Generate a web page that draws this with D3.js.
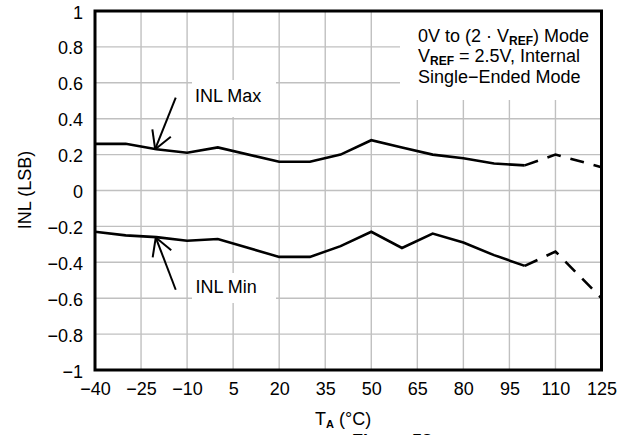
<!DOCTYPE html>
<html><head><meta charset="utf-8">
<script src="https://cdn.jsdelivr.net/npm/d3@7"></script>
<style>
body{margin:0;background:#fff}
svg{display:block}
text{font-family:"Liberation Sans",Arial,Helvetica,sans-serif;fill:#000}
</style>
</head><body>
<svg id="chart" width="628" height="435"></svg>
<script>
// ---- data ----
const temps = [-40, -30, -20, -10, 0, 20, 30, 40, 50, 60, 70, 80, 90, 100];
const inlMax = [0.26, 0.26, 0.23, 0.21, 0.24, 0.16, 0.16, 0.20, 0.28, 0.24, 0.20, 0.18, 0.15, 0.14];
const inlMin = [-0.23, -0.25, -0.26, -0.28, -0.27, -0.37, -0.37, -0.31, -0.23, -0.32, -0.24, -0.29, -0.36, -0.42];
const tempsExt = [100, 110, 125];
const inlMaxExt = [0.14, 0.20, 0.13];
const inlMinExt = [-0.42, -0.34, -0.60];
const xTicks = [-40, -25, -10, 5, 20, 35, 50, 65, 80, 95, 110, 125];
const xTickLabels = ["−40", "−25", "−10", "5", "20", "35", "50", "65", "80", "95", "110", "125"];
const yTicks = [-1, -0.8, -0.6, -0.4, -0.2, 0, 0.2, 0.4, 0.6, 0.8, 1];
const yTickLabels = ["−1", "−0.8", "−0.6", "−0.4", "−0.2", "0", "0.2", "0.4", "0.6", "0.8", "1"];

// ---- layout ----
const svg = d3.select("#chart");
const L = 95, R = 601.5, T = 11, B = 370;
const x = d3.scaleLinear().domain([-40, 125]).range([L, R]);
const y = d3.scaleLinear().domain([-1, 1]).range([B, T]);
const FS = 18;

// grid
const grid = svg.append("g").attr("stroke", "#c0c0c0").attr("stroke-width", 1.4);
grid.selectAll("line.v").data(xTicks).join("line").attr("class", "v")
  .attr("x1", d => x(d)).attr("x2", d => x(d)).attr("y1", T).attr("y2", B);
grid.selectAll("line.h").data(yTicks).join("line").attr("class", "h")
  .attr("x1", L).attr("x2", R).attr("y1", d => y(d)).attr("y2", d => y(d));

// white backgrounds behind texts
svg.append("rect").attr("x", 400).attr("y", T).attr("width", R - 400).attr("height", 100 - T).attr("fill", "#fff");
svg.append("rect").attr("x", 192).attr("y", 80).attr("width", 84).attr("height", 37).attr("fill", "#fff");
svg.append("rect").attr("x", 192).attr("y", 273).attr("width", 84).attr("height", 30).attr("fill", "#fff");

// series
const line = d3.line().x(d => x(d[0])).y(d => y(d[1]));
function drawSeries(ts, vs, dashed) {
  svg.append("path").datum(ts.map((t, i) => [t, vs[i]]))
    .attr("d", line).attr("fill", "none").attr("stroke", "#000")
    .attr("stroke-width", 2.6).attr("stroke-linejoin", "miter")
    .attr("stroke-dasharray", dashed ? "14,10" : null);
}
drawSeries(temps, inlMax, false);
drawSeries(temps, inlMin, false);
drawSeries(tempsExt, inlMaxExt, true);
drawSeries(tempsExt, inlMinExt, true);

// arrows (tail -> tip, in data units)
function arrow(tail, tip) {
  const tx = x(tail[0]), ty = y(tail[1]), px = x(tip[0]), py = y(tip[1]);
  const g = svg.append("g").attr("stroke", "#000").attr("stroke-width", 2).attr("fill", "none");
  g.append("line").attr("x1", tx).attr("y1", ty).attr("x2", px).attr("y2", py);
  const a = Math.atan2(ty - py, tx - px);
  [-0.52, 0.52].forEach(da => {
    g.append("line").attr("x1", px).attr("y1", py)
      .attr("x2", px + 20 * Math.cos(a + da)).attr("y2", py + 20 * Math.sin(a + da));
  });
}
arrow([-13.7, 0.518], [-20.4, 0.23]);
arrow([-13.7, -0.553], [-20.2, -0.262]);

// border
svg.append("rect").attr("x", L).attr("y", T).attr("width", R - L).attr("height", B - T)
  .attr("fill", "none").attr("stroke", "#000").attr("stroke-width", 3);

// axes
const xAxis = svg.append("g").attr("transform", `translate(0,${B})`)
  .call(d3.axisBottom(x).tickValues(xTicks).tickSize(0).tickFormat((d, i) => xTickLabels[i]));
xAxis.select(".domain").remove();
xAxis.selectAll("text").attr("y", 25).attr("dy", 0).attr("font-size", FS)
  .attr("font-family", "Liberation Sans, Arial, sans-serif").attr("fill", "#000");

const yAxis = svg.append("g").attr("transform", `translate(${L},0)`)
  .call(d3.axisLeft(y).tickValues(yTicks).tickSize(0).tickFormat((d, i) => yTickLabels[i]));
yAxis.select(".domain").remove();
yAxis.selectAll("text").attr("x", -12).attr("dy", 7).attr("font-size", FS)
  .attr("font-family", "Liberation Sans, Arial, sans-serif").attr("fill", "#000");

// axis titles
svg.append("text").attr("transform", "translate(31,190) rotate(-90)")
  .attr("text-anchor", "middle").attr("font-size", FS).text("INL (LSB)");
const xt = svg.append("text").attr("x", 315).attr("y", 425).attr("font-size", FS);
xt.append("tspan").text("T");
xt.append("tspan").attr("font-size", 11).attr("font-weight", "bold").attr("dy", 3).text("A");
xt.append("tspan").attr("dy", -3).text(" (°C)");

svg.append("text").attr("x", 352).attr("y", 447).attr("font-size", FS).attr("font-weight", "bold").text("Figure 58");

// series labels
svg.append("text").attr("x", 195).attr("y", 101.5).attr("font-size", FS).text("INL Max");
svg.append("text").attr("x", 195.5).attr("y", 293).attr("font-size", FS).text("INL Min");

// condition text
const t1 = svg.append("text").attr("x", 418).attr("y", 41.5).attr("font-size", FS);
t1.append("tspan").text("0V to (2 · V");
t1.append("tspan").attr("font-size", 12).attr("font-weight", "bold").attr("dy", 3).text("REF");
t1.append("tspan").attr("dy", -3).text(") Mode");
const t2 = svg.append("text").attr("x", 418).attr("y", 62).attr("font-size", FS);
t2.append("tspan").text("V");
t2.append("tspan").attr("font-size", 12).attr("font-weight", "bold").attr("dy", 3).text("REF");
t2.append("tspan").attr("dy", -3).text(" = 2.5V, Internal");
svg.append("text").attr("x", 418).attr("y", 83).attr("font-size", FS).text("Single\u2212Ended Mode");
</script>
</body></html>
